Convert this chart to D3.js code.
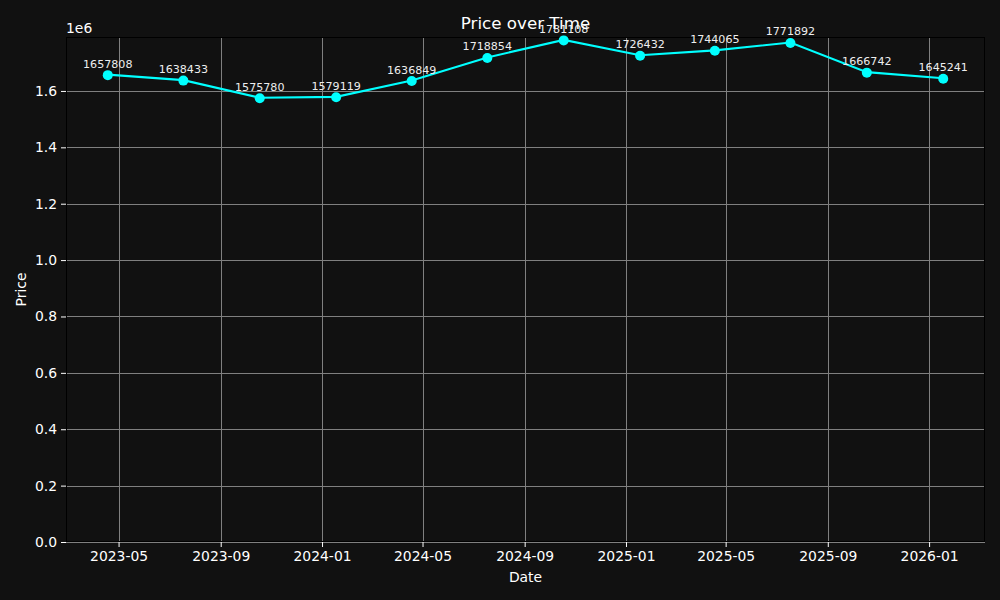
<!DOCTYPE html>
<html><head><meta charset="utf-8">
<script src="https://cdn.jsdelivr.net/npm/d3@7"></script>
<style>body{margin:0;background:#111111;} svg{display:block;}</style>
</head><body>
<svg id="c" width="1000" height="600"></svg>
<script>
const dates = ["2023-04-18","2023-07-18","2023-10-18","2024-01-18","2024-04-18","2024-07-18","2024-10-18","2025-01-18","2025-04-18","2025-07-18","2025-10-18","2026-01-18"];
const prices = [1657808,1638433,1575780,1579119,1636849,1718854,1781108,1726432,1744065,1771892,1666742,1645241];
const xTickLabels = ["2023-05","2023-09","2024-01","2024-05","2024-09","2025-01","2025-05","2025-09","2026-01"];
const yTicks = [0,0.2,0.4,0.6,0.8,1.0,1.2,1.4,1.6];

const parse = d3.utcParse("%Y-%m-%d");
const parseM = d3.utcParse("%Y-%m");
const data = dates.map((d,i)=>({date:parse(d), value:prices[i]}));

const svg = d3.select("#c");
const L=66, R=985, T=37, B=542;
const font = "DejaVu Sans, sans-serif";
svg.append("rect").attr("width",1000).attr("height",600).attr("fill","#111111");

const t0 = +data[0].date, t1 = +data[data.length-1].date;
const xpad = (t1-t0)*0.05;
const x = d3.scaleUtc().domain([new Date(t0-xpad), new Date(t1+xpad)]).range([L,R]);
const vmin = d3.min(prices), vmax = d3.max(prices);
const y = d3.scaleLinear().domain([0, vmax + 0.05*(vmax-vmin)]).range([B,T]);

// grid
const g = svg.append("g");
xTickLabels.forEach(s=>{
  const xx = Math.round(x(parseM(s)))+0.5;
  g.append("line").attr("x1",xx).attr("x2",xx).attr("y1",T).attr("y2",B).attr("stroke","#808080").attr("stroke-width",1);
});
yTicks.forEach(v=>{
  const yy = Math.round(y(v*1e6))+0.5;
  g.append("line").attr("x1",L).attr("x2",R).attr("y1",yy).attr("y2",yy).attr("stroke","#808080").attr("stroke-width",1);
});

// axes
const xAxis = d3.axisBottom(x).tickValues(xTickLabels.map(s=>parseM(s))).tickFormat(d3.utcFormat("%Y-%m")).tickSize(5).tickPadding(4);
const yAxis = d3.axisLeft(y).tickValues(yTicks.map(v=>v*1e6)).tickFormat(v=>(v/1e6).toFixed(1)).tickSize(5).tickPadding(4);
const gx = svg.append("g").attr("transform",`translate(0,${B})`).call(xAxis);
const gy = svg.append("g").attr("transform",`translate(${L},0)`).call(yAxis);
[gx,gy].forEach(a=>{
  a.select(".domain").remove();
  a.selectAll(".tick line").attr("stroke","#ffffff");
  a.selectAll(".tick text").attr("fill","#ffffff").style("font-family",font).style("font-size","13.9px");
});
// spines
svg.append("rect").attr("x",L+0.5).attr("y",T+0.5).attr("width",R-L-1).attr("height",B-T-1).attr("fill","none").attr("stroke","#000000").attr("stroke-width",1);

// line
const line = d3.line().x(d=>x(d.date)).y(d=>y(d.value));
svg.append("path").datum(data).attr("d",line).attr("fill","none").attr("stroke","#00ffff").attr("stroke-width",2.1);
svg.selectAll("circle.pt").data(data).enter().append("circle").attr("class","pt")
  .attr("cx",d=>x(d.date)).attr("cy",d=>y(d.value)+0.5).attr("r",5).attr("fill","#00ffff");

// annotations
svg.selectAll("text.ann").data(data).enter().append("text").attr("class","ann")
  .attr("x",d=>x(d.date)).attr("y",d=>y(d.value)-7).attr("text-anchor","middle")
  .attr("fill","#eeeeee").style("font-family",font).style("font-size","11.1px").text(d=>d.value);

// title and labels
svg.append("text").attr("x",(L+R)/2).attr("y",29).attr("text-anchor","middle").attr("fill","#ffffff")
  .style("font-family",font).style("font-size","16.7px").text("Price over Time");
svg.append("text").attr("x",(L+R)/2).attr("y",582).attr("text-anchor","middle").attr("fill","#ffffff")
  .style("font-family",font).style("font-size","13.9px").text("Date");
svg.append("text").attr("transform",`translate(26,${(T+B)/2}) rotate(-90)`).attr("text-anchor","middle").attr("fill","#ffffff")
  .style("font-family",font).style("font-size","13.9px").text("Price");
svg.append("text").attr("x",L).attr("y",33).attr("fill","#ffffff")
  .style("font-family",font).style("font-size","13.9px").text("1e6");
</script>
</body></html>
